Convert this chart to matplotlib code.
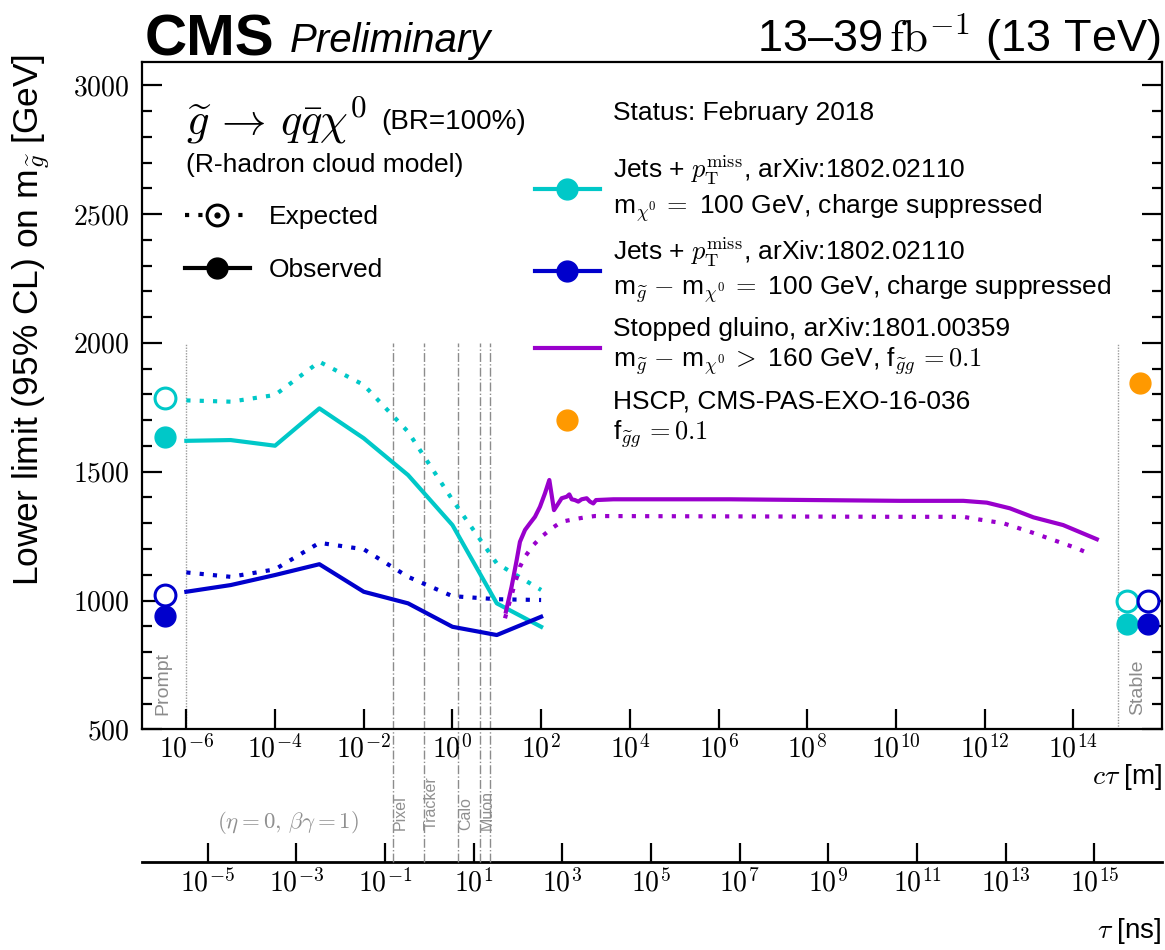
import numpy as np
import matplotlib
matplotlib.use("Agg")
import matplotlib.pyplot as plt
from matplotlib.lines import Line2D
from matplotlib.ticker import FixedLocator, NullLocator, FuncFormatter, MultipleLocator
from matplotlib.transforms import blended_transform_factory

plt.rcParams["font.family"] = ["Liberation Sans", "DejaVu Sans"]
plt.rcParams["mathtext.fontset"] = "cm"

# ---- data ----
ctau_jets = [1e-6, 1e-5, 1e-4, 1e-3, 1e-2, 1e-1, 1e0, 1e1, 1e2]  # m
jets_lsp_obs = [1620, 1623, 1601, 1746, 1630, 1487, 1293, 989, 898]
jets_lsp_exp = [1777, 1772, 1798, 1927, 1837, 1655, 1391, 1144, 1041]
jets_dm_obs = [1034, 1060, 1099, 1141, 1034, 989, 898, 866, 937]
jets_dm_exp = [1109, 1092, 1121, 1224, 1199, 1092, 1017, 1005, 1002]

stop_ctau_obs = [16.1, 21.6, 28.1, 33.3, 43.3, 56.1, 72.6, 94.2, 122, 153, 195, 232,
                 290, 377, 432, 489, 579, 689, 820, 1064, 1262, 1500, 1726, 4236,
                 1.81e6, 1.23e10, 3.31e11, 1.12e12, 3.72e12, 1.26e13, 5.89e13, 3.39e14]
stop_obs = [957, 1054, 1157, 1228, 1274, 1300, 1325, 1364, 1416, 1468, 1351, 1371,
            1397, 1403, 1412, 1393, 1390, 1384, 1393, 1397, 1384, 1377, 1390, 1393,
            1393, 1387, 1387, 1380, 1358, 1323, 1293, 1238]
stop_ctau_exp = [15.3, 25.7, 33.3, 43.3, 66.5, 103, 173, 290, 532, 975, 1637,
                 1.23e10, 3.31e11, 7.24e11, 2.63e12, 1.05e13, 3.55e13, 1.2e14, 2.4e14]
stop_exp = [931, 1067, 1131, 1170, 1215, 1248, 1280, 1306, 1315, 1323, 1328,
            1325, 1325, 1315, 1300, 1267, 1235, 1203, 1180]

prompt_ctau = 3.3e-7
prompt_lsp = {"exp": 1787, "obs": 1634}
prompt_dm = {"exp": 1021, "obs": 940}
stable_ctau_lsp = 1.6e15
stable_ctau_dm = 4.9e15
stable_lsp = {"exp": 998, "obs": 909}
stable_dm = {"exp": 998, "obs": 909}
hscp_ctau = 3.2e15
hscp_limit = 1843

prompt_line_ctau = 1e-6
stable_line_ctau = 1e15
region_top = 2000
detector_names = ["Pixel", "Tracker", "Calo", "Muon"]
detector_ctau = [0.045, 0.228, 1.36, 4.18, 7.03]
detector_label_ctau = [0.045, 0.228, 1.36, 4.18]

ct_ticks = [10.0 ** e for e in range(-6, 15, 2)]
tau_ticks = [10.0 ** e for e in range(-5, 16, 2)]
C_M_PER_NS = 0.3

CYAN = "#00C8C8"
BLUE = "#0000CC"
PURPLE = "#9900CC"
ORANGE = "#FF9900"
GREY = "#8c8c8c"
DOT = (0, (1, 2.2))

W, H = 1165, 950
fig = plt.figure(figsize=(W / 100, H / 100), dpi=100)
ax = fig.add_axes([142 / W, 1 - 729.3 / H, 1020 / W, 667.6 / H])
ax.set_xscale("log")
ax.set_xlim(1e-7, 1e16)
ax.set_ylim(500, 3092)
ymin, ymax = ax.get_ylim()
top_frac = (region_top - ymin) / (ymax - ymin)
xblend = blended_transform_factory(ax.transData, ax.transAxes)

# detector boundaries and prompt / stable markers
for x in detector_ctau:
    ax.plot([x, x], [-0.1988, top_frac], transform=xblend, color=GREY, lw=1.0,
            ls="-.", clip_on=False, zorder=1)
for name, x in zip(detector_names, detector_label_ctau):
    ax.text(x, -0.1508, name, transform=xblend, rotation=90, ha="left", va="bottom",
            fontsize=11.5, color="#909090")
for x in [prompt_line_ctau, stable_line_ctau]:
    ax.plot([x, x], [ymin, region_top], color="#9a9a9a", lw=1.0, ls=(0, (1, 1)), zorder=1)
ax.text(0.0206, 0.0214, "Prompt", transform=ax.transAxes, rotation=90, ha="center",
        va="bottom", fontsize=14, color=GREY)
ax.text(0.9765, 0.0214, "Stable", transform=ax.transAxes, rotation=90, ha="center",
        va="bottom", fontsize=14, color=GREY)

# curves
ax.plot(ctau_jets, jets_lsp_exp, color=CYAN, lw=3, ls=DOT)
ax.plot(ctau_jets, jets_lsp_obs, color=CYAN, lw=3)
ax.plot(ctau_jets, jets_dm_exp, color=BLUE, lw=3, ls=DOT)
ax.plot(ctau_jets, jets_dm_obs, color=BLUE, lw=3)
ax.plot(stop_ctau_exp, stop_exp, color=PURPLE, lw=3, ls=DOT)
ax.plot(stop_ctau_obs, stop_obs, color=PURPLE, lw=3)

# prompt / stable points
ms = 15
for xc, vals, col in [(prompt_ctau, prompt_lsp, CYAN), (prompt_ctau, prompt_dm, BLUE),
                      (stable_ctau_lsp, stable_lsp, CYAN), (stable_ctau_dm, stable_dm, BLUE)]:
    ax.plot([xc], [vals["exp"]], ls="none", marker="o", ms=ms, mfc="white", mec=col, mew=2.2)
    ax.plot([xc], [vals["obs"]], ls="none", marker="o", ms=ms, color=col)
ax.plot([hscp_ctau], [hscp_limit], ls="none", marker="o", ms=ms, color=ORANGE)

# axes styling
for s in ax.spines.values():
    s.set_linewidth(1.6)
ax.xaxis.set_major_locator(FixedLocator(ct_ticks))
ax.xaxis.set_minor_locator(NullLocator())
ax.xaxis.set_major_formatter(FuncFormatter(lambda v, p: f"$10^{{{int(round(np.log10(v)))}}}$"))
ax.yaxis.set_major_locator(MultipleLocator(500))
ax.yaxis.set_minor_locator(MultipleLocator(100))
ax.yaxis.set_major_formatter(FuncFormatter(lambda v, p: f"${v:.0f}$"))
ax.tick_params(axis="x", which="both", direction="in", top=False, length=14.5, width=1.6,
               labelsize=20, pad=4)
ax.tick_params(axis="y", which="both", direction="in", left=True, right=True, width=1.6,
               labelsize=20, pad=9)
ax.tick_params(axis="y", which="major", length=14.5)
ax.tick_params(axis="y", which="minor", length=7.5)

sec = ax.secondary_xaxis(-0.1988, functions=(lambda x: x / C_M_PER_NS, lambda x: x * C_M_PER_NS))
sec.xaxis.set_major_locator(FixedLocator(tau_ticks))
sec.xaxis.set_minor_locator(NullLocator())
sec.xaxis.set_major_formatter(FuncFormatter(lambda v, p: f"$10^{{{int(round(np.log10(v)))}}}$"))
sec.tick_params(axis="x", which="both", direction="in", length=14, width=1.6, labelsize=20, pad=5)
sec.spines["bottom"].set_linewidth(2.0)

ax.set_ylabel(r"Lower limit (95% CL) on m$_{\widetilde{g}}$ [GeV]", fontsize=25.5, loc="top")
ax.yaxis.set_label_coords(-0.088, 1.011)
ax.text(1.0, -0.049, r"$c\tau$ [m]", transform=ax.transAxes, ha="right", va="top", fontsize=20)
ax.text(1.0, -0.2797, r"$\tau$ [ns]", transform=ax.transAxes, ha="right", va="top", fontsize=20)
fig.text(288 / W, 1 - 822 / H, r"$(\eta = 0,\, \beta\gamma = 1)$", ha="center", va="center",
         fontsize=16.5, color="#909090")

# header
fig.text(145 / W, 1 - 55 / H, "CMS", fontsize=42, fontweight="bold", va="baseline")
fig.text(290 / W, 1 - 52 / H, "Preliminary", fontsize=29, style="italic", va="baseline")
fig.text(1160 / W, 1 - 52 / H, r"13–39$\,\mathrm{fb}^{-1}$ (13 TeV)", fontsize=32.5,
         ha="right", va="baseline")

# left legend block
fig.text(186 / W, 1 - 120 / H, r"$\widetilde{g}\,\rightarrow\,q\bar{q}\chi^{0}$", fontsize=32,
         va="center")
fig.text(381 / W, 1 - 122 / H, "(BR=100%)", fontsize=20, va="center")
fig.text(186 / W, 1 - 165 / H, "(R-hadron cloud model)", fontsize=19, va="center")
h_exp = (Line2D([], [], color="k", lw=3, ls=DOT, marker="o", ms=ms, mfc="white", mec="k", mew=2.2),
         Line2D([], [], ls="none", marker="o", ms=3.5, color="k"))
h_obs = Line2D([], [], color="k", lw=3, marker="o", ms=ms)
leg1 = ax.legend([h_exp, h_obs], ["Expected", "Observed"], loc="upper left",
                 bbox_to_anchor=(185 / W, 1 - 205 / H), bbox_transform=fig.transFigure,
                 frameon=False, fontsize=19, handlelength=2.46, handletextpad=0.72,
                 labelspacing=1.09, borderpad=0, borderaxespad=0)
ax.add_artist(leg1)

# right legend block
fig.text(613 / W, 1 - 113 / H, "Status: February 2018", fontsize=19, va="center")
handles = [Line2D([], [], color=CYAN, lw=3, marker="o", ms=ms),
           Line2D([], [], color=BLUE, lw=3, marker="o", ms=ms),
           Line2D([], [], color=PURPLE, lw=3),
           Line2D([], [], ls="none", color=ORANGE, marker="o", ms=ms)]
labels = [r"Jets + $p_{\mathrm{T}}^{\mathrm{miss}}$, arXiv:1802.02110" + "\n"
          + r"m$_{\chi^{0}}\,=$ 100 GeV, charge suppressed",
          r"Jets + $p_{\mathrm{T}}^{\mathrm{miss}}$, arXiv:1802.02110" + "\n"
          + r"m$_{\widetilde{g}}$ $-$ m$_{\chi^{0}}\,=$ 100 GeV, charge suppressed",
          "Stopped gluino, arXiv:1801.00359\n"
          + r"m$_{\widetilde{g}}$ $-$ m$_{\chi^{0}}\,>$ 160 GeV, f$_{\widetilde{g}g}\,= 0.1$",
          "HSCP, CMS-PAS-EXO-16-036\n" + r"f$_{\widetilde{g}g}\,= 0.1$"]
ax.legend(handles, labels, loc="upper left", bbox_to_anchor=(535 / W, 1 - 154 / H),
          bbox_transform=fig.transFigure, frameon=False, fontsize=19, handlelength=2.46,
          handletextpad=0.5, labelspacing=0.45, borderpad=0, borderaxespad=0)

fig.savefig("out.png", dpi=100)
